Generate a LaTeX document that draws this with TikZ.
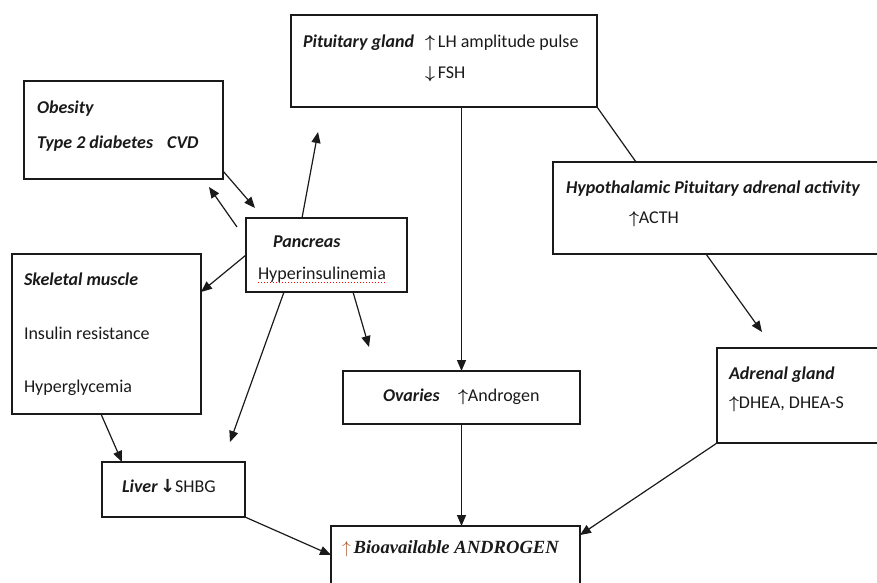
\documentclass[tikz,border=0pt]{standalone}
\usepackage{amsmath,amssymb,bm}
\usepackage{fontspec}
\setmainfont{Carlito}
\newfontfamily\tnr{Liberation Serif}
\newfontfamily\dv{DejaVu Sans}
\usetikzlibrary{arrows.meta,calc}
\definecolor{ink}{HTML}{1A1A1A}
\definecolor{brn}{HTML}{A8501E}
\newcommand{\upa}{$\bm{\uparrow}$}
\newcommand{\dna}{$\bm{\downarrow}$}
\begin{document}
\begin{tikzpicture}[x=1pt,y=-1pt,
  box/.style={draw=ink,line width=1.2pt,rectangle,inner sep=0pt,outer sep=0pt},
  txt/.style={anchor=base west,inner sep=0pt,outer sep=0pt,text=ink,font=\fontsize{18}{21}\selectfont},
  hd/.style={txt,font=\fontsize{18}{21}\selectfont\bfseries\itshape},
  arr/.style={draw=ink,line width=1.2pt,-{Triangle[length=11pt,width=9pt]}},
  ln/.style={draw=ink,line width=1.2pt}]
\useasboundingbox (0,0) rectangle (877,582);
\clip (0,0) rectangle (877,582);
% boxes
\node[box,minimum width=306pt,minimum height=92pt] (pit) at (444,61) {};
\node[box,minimum width=199pt,minimum height=98pt] (obe) at (123.5,130) {};
\node[box,minimum width=161pt,minimum height=74pt] (pan) at (326.5,255) {};
\node[box,minimum width=189pt,minimum height=160pt] (ske) at (106.5,334) {};
\node[box,minimum width=237pt,minimum height=53pt] (ova) at (461.5,397.5) {};
\node[box,minimum width=143pt,minimum height=55pt] (liv) at (173.5,489.5) {};
\node[box,minimum width=249pt,minimum height=74pt] (bio) at (455.5,563) {};
\node[box,minimum width=347pt,minimum height=92pt] (hpa) at (726.5,208) {};
\node[box,minimum width=183pt,minimum height=95pt] (adr) at (808.5,395.5) {};
% texts
\node[hd] (t1) at (303,47) {Pituitary gland};
\node[txt] (t2) at (425,47) {\upa\,LH amplitude pulse};
\node[txt] (t3) at (425,78) {\dna\,FSH};
\node[hd] (t4) at (37,113) {Obesity};
\node[hd] (t5) at (37,148) {Type 2 diabetes\hspace{14pt}CVD};
\node[hd] (t6) at (273,247) {Pancreas};
\node[txt] (hyp) at (258,279) {Hyperinsulinemia};
\draw[red,dotted,line width=1pt] ($(hyp.base west)+(0,3.5)$) -- ($(hyp.base east)+(0,3.5)$);
\node[hd] (t7) at (24,285) {Skeletal muscle};
\node[txt] (t8) at (24,339) {Insulin resistance};
\node[txt] (t9) at (24,392) {Hyperglycemia};
\node[hd] (t10) at (383,401) {Ovaries};
\node[txt] (t11) at (458,401) {\upa Androgen};
\node[hd] (t12) at (122,492) {Liver};
\node[txt] (t13) at (160,492) {{\dv\bfseries ↓}SHBG};
\node[txt] (t14) at (342,553) {\textcolor{brn}{$\uparrow$}\,{\tnr\fontsize{18.6}{21}\selectfont\bfseries\itshape Bioavailable ANDROGEN}};
\node[hd] (t15) at (566,193) {Hypothalamic Pituitary adrenal activity};
\node[txt] (t16) at (629,223) {\upa ACTH};
\node[hd] (t17) at (729,379) {Adrenal gland};
\node[txt] (t18) at (729,408) {\upa DHEA, DHEA-S};
% free ends
\coordinate (f1) at (762,332);
\coordinate (f2) at (230,442);
\coordinate (f3) at (369,347);
\coordinate (f4) at (318,132);
\coordinate (f5) at (255,208);
\coordinate (f6) at (237,227);
\coordinate (f7) at (209,187);
% connectors
\draw[arr] (ova.north |- pit.south) -- (ova.north);
\draw[ln] (pit.south east) -- ($(hpa.north west)+(83,0)$);
\draw[arr] ($(hpa.south west)+(153,0)$) -- (f1);
\draw[arr] (adr.south west) -- ($(bio.north east)+(0,9)$);
\draw[arr] (ova.south) -- (ova.south |- bio.north);
\draw[arr] (liv.south east) -- ($(bio.north west)+(0,29)$);
\draw[arr] ($(ske.south west)+(89,0)$) -- ($(liv.north west)+(20,0)$);
\draw[arr] ($(pan.south west)+(38,0)$) -- (f2);
\draw[arr] ($(pan.south west)+(107,0)$) -- (f3);
\draw[arr] ($(pan.north west)+(0,37)$) -- ($(ske.north east)+(0,38)$);
\draw[arr] ($(pan.north west)+(56,0)$) -- (f4);
\draw[arr] ($(obe.south east)+(0,-8)$) -- (f5);
\draw[arr] (f6) -- (f7);
\end{tikzpicture}
\end{document}
